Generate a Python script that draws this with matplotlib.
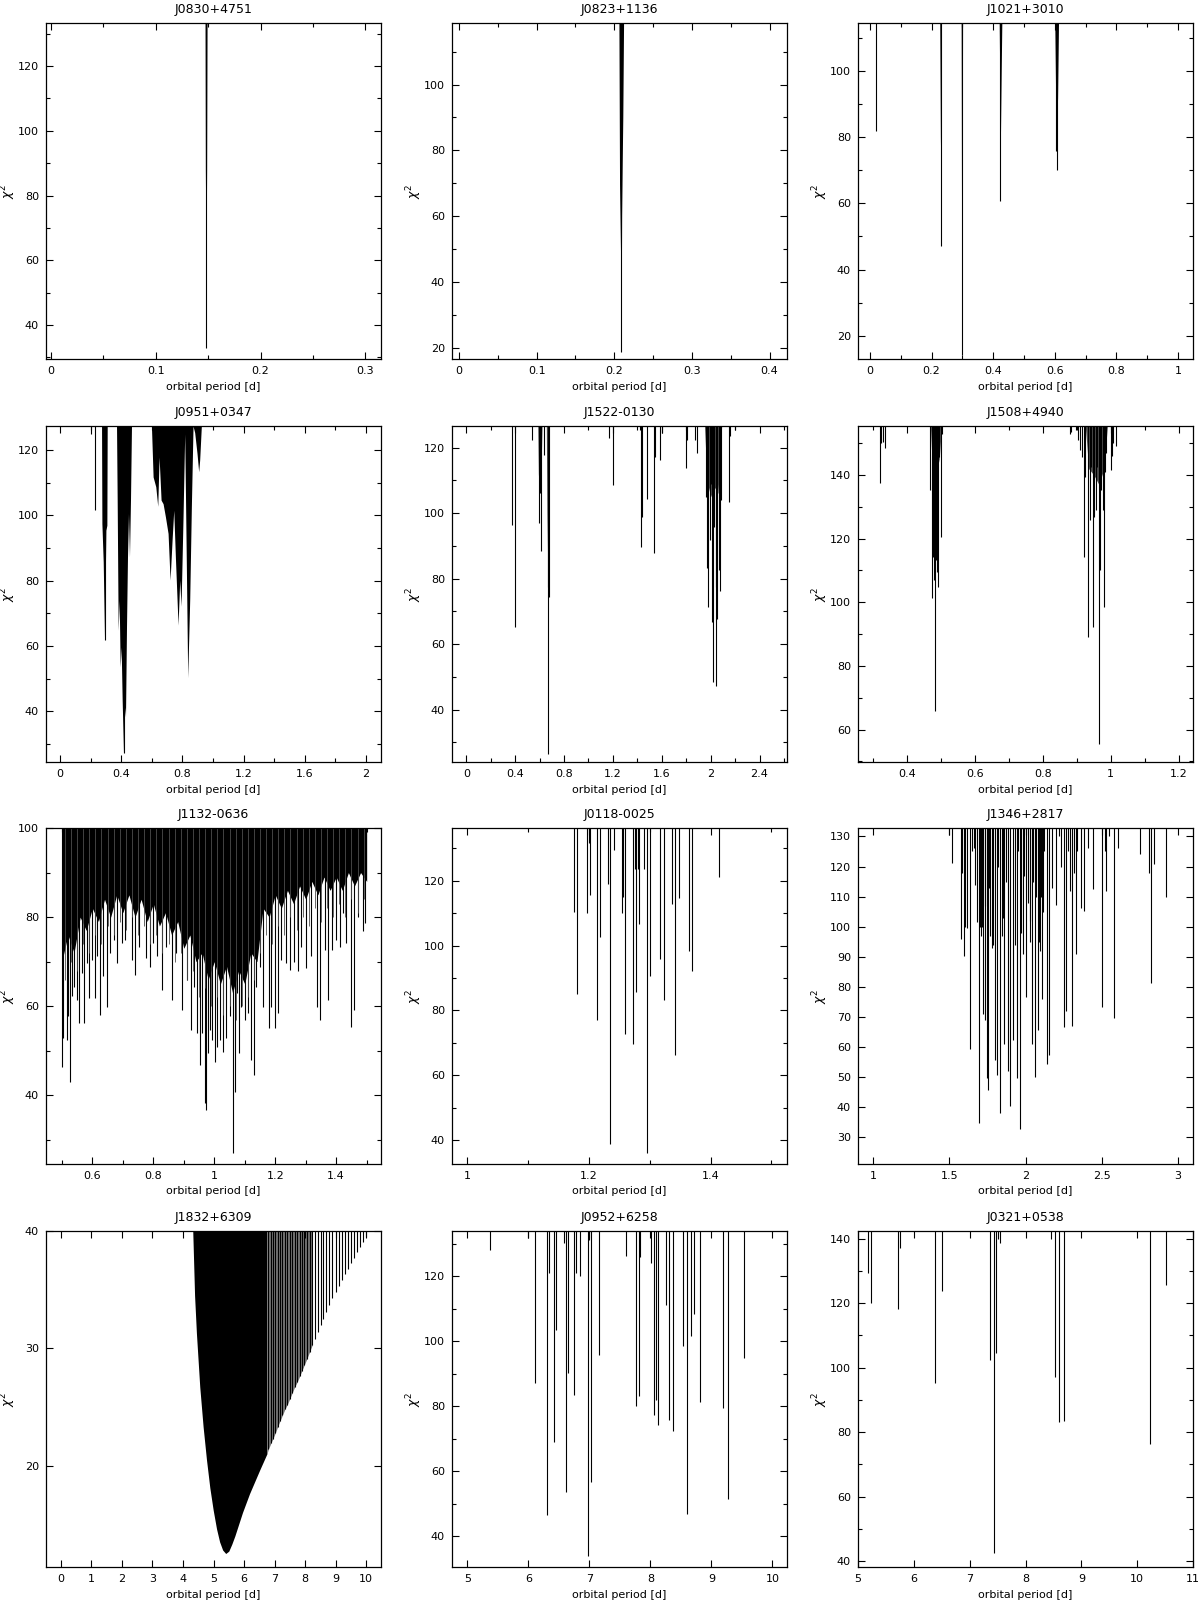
import numpy as np
import matplotlib
matplotlib.use("Agg")
import matplotlib.pyplot as plt
from matplotlib.ticker import MultipleLocator, FuncFormatter, NullLocator

titles = ["J0830+4751", "J0823+1136", "J1021+3010",
          "J0951+0347", "J1522-0130", "J1508+4940",
          "J1132-0636", "J0118-0025", "J1346+2817",
          "J1832+6309", "J0952+6258", "J0321+0538"]

# J0830+4751
p1_x = [0.1481]
p1_y = [32.8]
p1_bx = [[0.1471, 0.1474, 0.1478, 0.1482, 0.1486, 0.1490]]
p1_by = [[133.3, 88.0, 70.0, 64.0, 88.0, 133.3]]

# J0823+1136
p2_x = [0.2090]
p2_y = [18.7]
p2_bx = [[0.2060, 0.2068, 0.2077, 0.2085, 0.2090, 0.2095, 0.2103, 0.2110, 0.2120]]
p2_by = [[118.7, 69.6, 55.0, 42.0, 30.0, 60.0, 77.0, 90.0, 118.7]]

# J1021+3010
p3_x = [0.0184, 0.2290, 0.2980, 0.4225, 0.6030, 0.6070]
p3_y = [81.8, 47.0, 14.3, 60.8, 75.7, 70.2]
p3_bx = [[0.2265, 0.2285, 0.2300, 0.2320],
         [0.2960, 0.2975, 0.2990, 0.3005],
         [0.4195, 0.4210, 0.4235, 0.4260, 0.4280],
         [0.6000, 0.6030, 0.6065, 0.6090, 0.6120]]
p3_by = [[114.5, 80.0, 70.0, 114.5],
         [114.5, 40.0, 30.0, 114.5],
         [114.5, 100.0, 80.0, 100.0, 114.5],
         [114.5, 90.0, 82.0, 92.0, 114.5]]

# J0951+0347
p4_x = [0.200, 0.226, 0.2913, 0.4152]
p4_y = [125.0, 101.8, 62.0, 27.2]
p4_bx = [[0.2717, 0.2740, 0.2826, 0.2913, 0.3000, 0.3065, 0.3087],
         [0.3696, 0.3739, 0.3804, 0.3870, 0.3935, 0.4000, 0.4065, 0.4152, 0.4217,
          0.4283, 0.4348, 0.4413, 0.4478, 0.4543, 0.4609, 0.4674],
         [0.5978, 0.6087, 0.6261, 0.6391, 0.6478, 0.6609, 0.6739, 0.6891, 0.7065,
          0.7196, 0.7326, 0.7435, 0.7543, 0.7717, 0.7826, 0.7913, 0.8043, 0.8152,
          0.8261, 0.8348, 0.8478, 0.8587, 0.8696, 0.8804, 0.8957, 0.9065, 0.9130,
          0.9239]]
p4_by = [[127.4, 97.5, 85.8, 62.0, 95.5, 97.0, 127.4],
         [127.4, 104.7, 64.8, 74.0, 53.6, 59.7, 43.4, 27.2, 41.3,
          38.3, 65.8, 87.3, 100.6, 87.3, 104.7, 127.4],
         [127.4, 111.8, 108.8, 102.8, 117.9, 104.7, 103.6, 99.6, 94.5,
          80.2, 92.4, 101.6, 87.3, 66.4, 80.2, 72.2, 99.6, 125.0,
          84.2, 50.3, 74.0, 102.6, 127.4, 125.4, 119.0, 113.4, 117.0,
          127.4]]

# J1522-0130
p5_x = [0.371, 0.398, 0.540, 0.592, 0.600, 0.611, 0.636, 0.666, 0.671, 0.677,
        1.168, 1.201, 1.419, 1.432, 1.441, 1.482, 1.533, 1.542, 1.588, 1.599,
        1.795, 1.804, 1.872, 1.888, 1.959, 1.970, 1.981, 1.992, 2.003, 2.014,
        2.019, 2.030, 2.041, 2.046, 2.055, 2.065, 2.076, 2.087, 2.150, 2.158,
        2.196]
p5_y = [96.4, 65.3, 122.3, 96.9, 106.0, 88.4, 117.8, 77.5, 26.5, 74.4,
        123.0, 108.6, 125.4, 89.7, 98.9, 104.4, 87.7, 117.2, 116.2, 124.4,
        113.7, 122.3, 122.3, 118.5, 105.0, 83.1, 71.4, 91.8, 109.0, 66.8,
        48.5, 95.8, 77.5, 47.1, 67.8, 82.6, 76.3, 104.0, 103.5, 123.4,
        125.4]
p5_bx = [[0.585, 0.590, 0.600, 0.610, 0.620],
         [0.655, 0.660, 0.668, 0.675, 0.680],
         [1.950, 1.970, 2.000, 2.030, 2.060, 2.090]]
p5_by = [[126.6, 112.0, 106.0, 110.0, 126.6],
         [126.6, 100.0, 80.0, 85.0, 126.6],
         [126.6, 110.0, 105.0, 108.0, 106.0, 126.6]]

# J1508+4940
p6_x = [0.3206, 0.3245, 0.3284, 0.3343, 0.4686, 0.4745, 0.4775, 0.4804, 0.4833,
        0.4863, 0.4892, 0.4922, 0.4951, 0.4990, 0.5020, 0.8794, 0.8843, 0.8990,
        0.9049, 0.9088, 0.9167, 0.9216, 0.9255, 0.9343, 0.9382, 0.9422, 0.9471,
        0.9510, 0.9559, 0.9598, 0.9657, 0.9686, 0.9725, 0.9775, 0.9794, 0.9833,
        0.9873, 1.0000, 1.0049, 1.0078, 1.0147]
p6_y = [137.4, 150.0, 150.5, 148.6, 135.3, 101.2, 114.3, 107.0, 65.8,
        113.3, 109.6, 104.9, 145.8, 120.4, 153.0, 153.0, 153.5, 154.0,
        151.0, 147.9, 145.8, 114.3, 139.5, 89.1, 125.8, 142.6, 92.3,
        126.9, 129.0, 142.6, 55.4, 110.1, 135.3, 129.0, 98.4, 141.0,
        146.8, 141.6, 146.0, 150.2, 149.2]
p6_bx = [[0.469, 0.475, 0.485, 0.495, 0.502],
         [0.925, 0.935, 0.950, 0.965, 0.980, 0.990]]
p6_by = [[155.4, 142.0, 140.0, 145.0, 155.4],
         [155.4, 142.0, 140.0, 137.0, 142.0, 155.4]]

# J1132-0636
p7_x = [0.500, 0.505, 0.516, 0.521, 0.527, 0.532, 0.540, 0.549, 0.556, 0.565,
        0.574, 0.581, 0.590, 0.599, 0.609, 0.616, 0.625, 0.636, 0.647, 0.658,
        0.671, 0.682, 0.696, 0.707, 0.729, 0.740, 0.754, 0.776, 0.789, 0.800,
        0.811, 0.830, 0.843, 0.860, 0.876, 0.895, 0.909, 0.923, 0.934, 0.942,
        0.953, 0.961, 0.968, 0.974, 0.981, 0.987, 0.994, 1.002, 1.009, 1.018,
        1.029, 1.040, 1.051, 1.062, 1.068, 1.075, 1.081, 1.089, 1.100, 1.111,
        1.122, 1.130, 1.138, 1.149, 1.160, 1.180, 1.187, 1.198, 1.208, 1.220,
        1.234, 1.247, 1.260, 1.274, 1.285, 1.302, 1.318, 1.338, 1.348, 1.362,
        1.373, 1.387, 1.400, 1.413, 1.422, 1.433, 1.449, 1.460, 1.471, 1.487,
        1.496]
p7_y = [46.4, 52.8, 52.4, 57.7, 43.1, 62.2, 64.4, 61.4, 56.3, 67.4,
        56.3, 69.7, 61.8, 70.4, 61.8, 71.2, 58.1, 66.7, 59.9, 71.9,
        74.9, 69.7, 74.2, 74.9, 70.4, 67.0, 73.4, 70.8, 68.9, 74.2,
        71.2, 63.7, 73.4, 61.4, 71.9, 59.2, 65.9, 54.7, 64.4, 53.9,
        46.8, 53.9, 38.2, 36.7, 49.4, 54.7, 52.4, 47.6, 50.9, 52.4,
        49.8, 52.8, 57.7, 27.1, 40.8, 62.9, 49.4, 59.9, 56.9, 58.4,
        47.9, 44.6, 64.4, 68.9, 59.9, 55.1, 59.9, 55.1, 58.4, 70.4,
        69.7, 68.2, 70.0, 67.8, 73.4, 68.5, 71.2, 59.9, 56.9, 72.7,
        61.4, 72.7, 74.9, 73.4, 80.9, 74.2, 55.4, 59.2, 80.1, 76.8,
        78.7]
# fainter in-between minima of J1132-0636
p7_x2 = [0.51, 0.53, 0.55, 0.57, 0.59, 0.61, 0.63, 0.65, 0.67, 0.69,
         0.71, 0.73, 0.75, 0.77, 0.79, 0.81, 0.83, 0.85, 0.87, 0.89,
         0.91, 0.93, 0.95, 0.97, 0.99, 1.01, 1.03, 1.05, 1.07, 1.09,
         1.11, 1.13, 1.15, 1.17, 1.19, 1.21, 1.23, 1.25, 1.27, 1.29,
         1.31, 1.33, 1.35, 1.37, 1.39, 1.41, 1.43, 1.45, 1.47, 1.49]
p7_y2 = [66, 70, 68, 74, 72, 76, 74, 78, 76, 79,
         77, 80, 76, 78, 74, 76, 72, 74, 70, 72,
         66, 68, 62, 64, 60, 62, 58, 60, 57, 60,
         62, 66, 72, 76, 74, 78, 76, 80, 77, 80,
         78, 82, 79, 82, 80, 83, 80, 84, 81, 84]
p7_bx = [[0.50, 0.52, 0.54, 0.56, 0.58, 0.60, 0.62, 0.64, 0.66, 0.68,
          0.70, 0.72, 0.74, 0.76, 0.78, 0.80, 0.82, 0.84, 0.86, 0.88,
          0.90, 0.92, 0.94, 0.96, 0.98, 1.00, 1.02, 1.04, 1.06, 1.08,
          1.10, 1.12, 1.14, 1.16, 1.18, 1.20, 1.22, 1.24, 1.26, 1.28,
          1.30, 1.32, 1.34, 1.36, 1.38, 1.40, 1.42, 1.44, 1.46, 1.48,
          1.50]]
p7_by = [[70, 76, 72, 80, 77, 82, 79, 84, 80, 85,
          81, 85, 80, 84, 79, 83, 78, 81, 76, 79,
          73, 76, 70, 72, 66, 70, 65, 69, 63, 68,
          65, 72, 70, 82, 80, 85, 82, 86, 83, 87,
          84, 88, 85, 89, 86, 89, 86, 90, 87, 90,
          88]]

# J0118-0025
p8_x = [1.175, 1.180, 1.197, 1.1995, 1.2016, 1.2137, 1.218, 1.231, 1.235, 1.241,
        1.254, 1.256, 1.259, 1.272, 1.276, 1.278, 1.280, 1.283, 1.291, 1.296,
        1.301, 1.316, 1.323, 1.337, 1.342, 1.348, 1.364, 1.369, 1.414]
p8_y = [110.3, 85.1, 110.1, 131.7, 115.6, 77.0, 102.7, 118.9, 38.9, 129.5,
        110.1, 115.0, 72.6, 69.7, 123.5, 85.6, 123.5, 106.6, 123.5, 36.1,
        90.5, 95.7, 83.3, 112.7, 66.4, 114.7, 98.3, 92.1, 121.2]

# J1346+2817
p9_x = [1.496, 1.520, 1.573, 1.580, 1.595, 1.600, 1.612, 1.634, 1.650, 1.664,
        1.670, 1.684, 1.695, 1.700, 1.704, 1.715, 1.719, 1.730, 1.734, 1.748,
        1.756, 1.760, 1.769, 1.780, 1.787, 1.800, 1.813, 1.820, 1.831, 1.846,
        1.850, 1.861, 1.870, 1.883, 1.900, 1.918, 1.930, 1.944, 1.950, 1.962,
        1.970, 1.984, 1.990, 2.001, 2.015, 2.027, 2.030, 2.040, 2.050, 2.060,
        2.070, 2.080, 2.085, 2.093, 2.095, 2.100, 2.106, 2.115, 2.120, 2.137,
        2.152, 2.170, 2.200, 2.220, 2.230, 2.250, 2.268, 2.280, 2.290, 2.307,
        2.320, 2.329, 2.340, 2.362, 2.384, 2.410, 2.443, 2.500, 2.520, 2.530,
        2.550, 2.578, 2.607, 2.749, 2.810, 2.821, 2.840, 2.919]
p9_y = [130.4, 121.0, 96.0, 118.0, 90.4, 100.0, 99.7, 59.3, 125.0, 126.3,
        114.0, 101.6, 34.6, 100.0, 96.9, 100.0, 70.8, 107.0, 69.1, 49.7,
        45.8, 113.0, 97.0, 93.0, 94.0, 55.8, 50.8, 120.0, 38.0, 97.0,
        103.0, 61.1, 115.0, 51.9, 40.4, 62.2, 94.0, 49.7, 125.0, 32.7,
        98.0, 90.8, 117.0, 76.7, 108.0, 102.0, 95.0, 61.0, 115.0, 50.0,
        110.0, 65.8, 95.0, 115.8, 92.0, 110.0, 75.8, 105.0, 125.0, 54.3,
        57.4, 113.0, 107.3, 130.0, 120.0, 66.6, 71.9, 125.0, 112.0, 66.9,
        118.0, 90.8, 125.0, 106.3, 105.1, 126.0, 112.4, 73.3, 125.0, 111.9,
        130.0, 69.7, 126.2, 124.1, 117.8, 81.3, 120.8, 109.9]

# J1832+6309
p10_x = [6.80, 6.88, 6.95, 7.03, 7.10, 7.18, 7.26, 7.34, 7.42, 7.50,
         7.58, 7.66, 7.74, 7.82, 7.90, 7.98, 8.06, 8.15, 8.24, 8.33,
         8.42, 8.51, 8.60, 8.70, 8.80, 8.90, 9.00, 9.10, 9.20, 9.30,
         9.40, 9.50, 9.60, 9.70, 9.80, 9.90, 10.0]
p10_y = [21.4, 21.9, 22.3, 22.8, 23.3, 23.8, 24.3, 24.8, 25.2, 25.7,
         26.2, 26.7, 27.1, 27.6, 28.1, 28.6, 29.1, 29.7, 30.3, 30.8,
         31.4, 32.0, 32.5, 33.1, 33.7, 34.3, 34.8, 35.3, 35.8, 36.3,
         36.8, 37.3, 37.7, 38.2, 38.6, 39.1, 39.5]
p10_bx = [[4.32, 4.38, 4.44, 4.55, 4.66, 4.77, 4.88, 4.99, 5.10, 5.20, 5.30,
           5.40, 5.50, 5.60, 5.70, 5.80, 5.95, 6.18, 6.51, 6.75]]
p10_by = [[40.0, 34.5, 31.3, 26.7, 23.3, 20.5, 18.1, 16.2, 14.6, 13.5, 12.8,
           12.5, 12.7, 13.3, 14.0, 14.8, 16.0, 17.6, 19.6, 21.0]]
# stretch of the comb that prints as dense grey
p10_gx = [6.75, 6.80, 6.88, 6.95, 7.03, 7.10, 7.18, 7.26, 7.34, 7.42, 7.50,
          7.58, 7.66, 7.74, 7.82, 7.90, 7.98, 8.06, 8.15, 8.24]
p10_gy = [21.0, 21.4, 21.9, 22.3, 22.8, 23.3, 23.8, 24.3, 24.8, 25.2, 25.7,
          26.2, 26.7, 27.1, 27.6, 28.1, 28.6, 29.1, 29.7, 30.3]

# J0952+6258
p11_x = [5.366, 5.995, 6.115, 6.300, 6.339, 6.415, 6.448, 6.585, 6.623, 6.656,
         6.754, 6.787, 6.842, 6.984, 7.000, 7.022, 7.158, 7.596, 7.765, 7.809,
         7.825, 8.005, 8.066, 8.098, 8.120, 8.257, 8.311, 8.372, 8.536, 8.596,
         8.661, 8.716, 8.820, 9.197, 9.279, 9.536]
p11_y = [128.2, 131.8, 87.1, 46.5, 121.0, 69.0, 103.5, 130.2, 53.7, 90.2,
         83.5, 121.0, 120.2, 33.8, 131.0, 56.8, 95.8, 126.2, 80.1, 83.0,
         126.0, 124.1, 77.3, 82.0, 74.2, 111.0, 75.7, 72.2, 98.6, 46.8,
         101.5, 108.4, 81.4, 79.4, 51.4, 94.8]

# J0321+0538
p12_x = [5.173, 5.227, 5.710, 5.751, 6.383, 6.497, 7.367, 7.433, 7.475, 7.500,
         7.546, 8.465, 8.524, 8.608, 8.692, 10.224, 10.522]
p12_y = [129.4, 120.1, 118.2, 137.2, 95.4, 123.7, 102.5, 42.4, 104.6, 139.8,
         138.8, 140.0, 97.0, 83.3, 83.6, 76.4, 125.5]

# spikes, solid blocks, block colour
panels = [
    (p1_x, p1_y, p1_bx, p1_by, "black"),
    (p2_x, p2_y, p2_bx, p2_by, "black"),
    (p3_x, p3_y, p3_bx, p3_by, "black"),
    (p4_x, p4_y, p4_bx, p4_by, "black"),
    (p5_x, p5_y, p5_bx, p5_by, "0.3"),
    (p6_x, p6_y, p6_bx, p6_by, "0.3"),
    (p7_x, p7_y, p7_bx, p7_by, "black"),
    (p8_x, p8_y, [], [], "black"),
    (p9_x, p9_y, [], [], "black"),
    (p10_x, p10_y, p10_bx, p10_by, "black"),
    (p11_x, p11_y, [], [], "black"),
    (p12_x, p12_y, [], [], "black"),
]

# axis settings: xlim, ylim, x major, x minor, y major, y minor
limits = [
    ((-0.0045, 0.3148), (29.5, 133.3), 0.1, 0.05, 20, 10),
    ((-0.009, 0.4225), (16.6, 118.7), 0.1, 0.05, 20, 10),
    ((-0.039, 1.0487), (12.96, 114.5), 0.2, 0.1, 20, 10),
    ((-0.0913, 2.098), (24.5, 127.4), 0.4, 0.2, 20, 10),
    ((-0.117, 2.625), (24.0, 126.6), 0.4, 0.2, 20, 10),
    ((0.256, 1.242), (49.8, 155.4), 0.2, 0.1, 20, 10),
    ((0.448, 1.547), (24.6, 100.0), 0.2, 0.1, 20, 10),
    ((0.975, 1.5255), (32.7, 136.2), 0.2, 0.1, 20, 10),
    ((0.90, 3.098), (21.1, 132.8), 0.5, None, 10, None),
    ((-0.49, 10.49), (11.35, 40.0), 1, None, 10, None),
    ((4.749, 10.24), (30.5, 133.9), 1, None, 20, 10),
    ((5.0, 11.0), (38.2, 142.4), 1, None, 20, 10),
]

W, H = 1200, 1600
col_left = [46, 452, 858]
row_top = [23, 426, 828, 1231]
ax_w, ax_h = 335, 336

fmt = FuncFormatter(lambda v, p: f"{v:.6g}" if abs(v) > 1e-9 else "0")

fig = plt.figure(figsize=(12, 16), dpi=100)
axes = []

for i, (title, (sx, sy, bxs, bys, bcol), lim) in enumerate(zip(titles, panels, limits)):
    r, c = divmod(i, 3)
    rect = [col_left[c] / W, 1 - (row_top[r] + ax_h) / H, ax_w / W, ax_h / H]
    ax = fig.add_axes(rect)
    axes.append(ax)
    (x0, x1), (y0, y1), xmaj, xmin, ymaj, ymin = lim
    ax.set_xlim(x0, x1)
    ax.set_ylim(y0, y1)

    for bx, by in zip(bxs, bys):
        ax.fill_between(bx, by, y1, color=bcol, lw=0)
    ax.vlines(sx, sy, y1, colors="black", lw=0.8)

    ax.xaxis.set_major_locator(MultipleLocator(xmaj))
    ax.yaxis.set_major_locator(MultipleLocator(ymaj))
    ax.xaxis.set_minor_locator(MultipleLocator(xmin) if xmin else NullLocator())
    ax.yaxis.set_minor_locator(MultipleLocator(ymin) if ymin else NullLocator())
    ax.xaxis.set_major_formatter(fmt)
    ax.yaxis.set_major_formatter(fmt)
    ax.tick_params(which="both", direction="in", top=True, right=True,
                   width=0.8, labelsize=8)
    ax.tick_params(which="major", length=5, pad=5)
    ax.tick_params(which="minor", length=3)
    for sp in ax.spines.values():
        sp.set_linewidth(0.9)

    ax.set_title(title, fontsize=9, pad=7)
    ax.set_xlabel("orbital period [d]", fontsize=8, labelpad=4)
    ax.set_ylabel(r"$\chi^2$", fontsize=9)
    ax.yaxis.set_label_coords(-0.085, 0.5)

# extra layers
ax7 = axes[6]
ax7.vlines(p7_x2, p7_y2, ax7.get_ylim()[1], colors="0.3", lw=0.6)

ax10 = axes[9]
ax10.fill_between(p10_gx, p10_gy, ax10.get_ylim()[1], color="0.45", lw=0)

fig.savefig("out.png", dpi=100)
